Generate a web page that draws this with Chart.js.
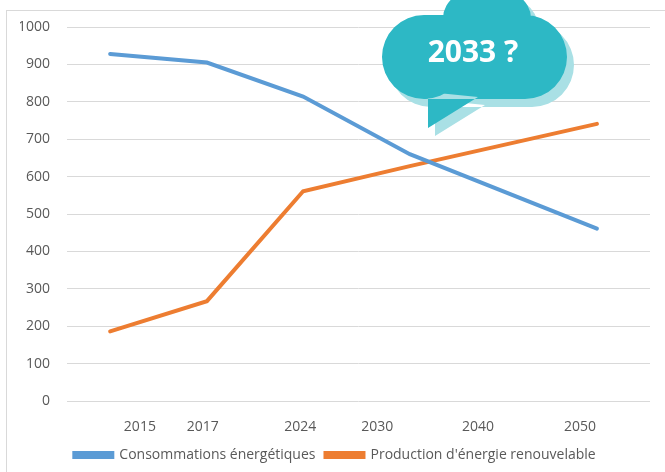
<!DOCTYPE html>
<html>
<head>
<meta charset="utf-8">
<script src="https://cdn.jsdelivr.net/npm/chart.js@4"></script>
<style>
  html, body { margin: 0; padding: 0; background: #fff; }
  #wrap { width: 665px; height: 472px; position: relative; }
</style>
</head>
<body>
<div id="wrap"><canvas id="chart" width="665" height="472"></canvas></div>
<script>
// Values
const yearLabels = ["2015", "2017", "2024", "2030", "2040", "2050"];
const labelSlots = [12.5, 23.3, 40.0, 53.2, 70.5, 88.0];   // where each year label sits on the x axis
const pointSlots = [7.4, 24.0, 40.5, 58.8, 90.9];          // where each measured point sits
const consommation = [928, 905, 814, 660, 461];
const production = [186, 267, 561, 628, 741];
const bubbleText = "2033 ?";

const gray = "#595959";

function toPoints(values) {
  return values.map((v, i) => ({ x: pointSlots[i], y: v }));
}

// Outer frame like the spreadsheet chart box
const framePlugin = {
  id: "frame",
  beforeDraw(chart) {
    const ctx = chart.ctx;
    ctx.save();
    ctx.strokeStyle = "#d9d9d9";
    ctx.lineWidth = 1;
    ctx.strokeRect(6.5, 10.5, 700, 500);
    ctx.restore();
  }
};

// Speech bubble annotation
function cloudPath(ctx, dx, dy) {
  ctx.beginPath();
  ctx.arc(424 + dx, 57 + dy, 42, 0, Math.PI * 2);
  ctx.moveTo(567 + dx, 57 + dy);
  ctx.arc(525 + dx, 57 + dy, 42, 0, Math.PI * 2);
  ctx.rect(424 + dx, 15 + dy, 101, 84);
  ctx.moveTo(531 + dx, 18 + dy);
  ctx.ellipse(487 + dx, 18 + dy, 44, 32, 0, 0, Math.PI * 2);
  ctx.moveTo(428 + dx, 92 + dy);
  ctx.lineTo(428 + dx, 128 + dy);
  ctx.lineTo(478 + dx, 97 + dy);
  ctx.closePath();
}

const bubblePlugin = {
  id: "bubble",
  afterDatasetsDraw(chart) {
    const ctx = chart.ctx;
    ctx.save();
    ctx.fillStyle = "#a9e0e5";
    cloudPath(ctx, 7, 8);
    ctx.fill("nonzero");
    ctx.fillStyle = "#2db8c5";
    cloudPath(ctx, 0, 0);
    ctx.fill("nonzero");
    ctx.fillStyle = "#ffffff";
    ctx.font = "bold 30px 'Open Sans'";
    ctx.textAlign = "center";
    ctx.textBaseline = "middle";
    ctx.fillText(bubbleText, 473, 53);
    ctx.restore();
  }
};

new Chart(document.getElementById("chart"), {
  type: "line",
  data: {
    datasets: [
      {
        label: "Consommations énergétiques",
        data: toPoints(consommation),
        borderColor: "#5b9bd5",
        backgroundColor: "#5b9bd5",
        borderWidth: 4,
        pointRadius: 0,
        borderCapStyle: "round",
        tension: 0
      },
      {
        label: "Production d'énergie renouvelable",
        data: toPoints(production),
        borderColor: "#ed7d31",
        backgroundColor: "#ed7d31",
        borderWidth: 4,
        pointRadius: 0,
        borderCapStyle: "round",
        tension: 0
      }
    ]
  },
  options: {
    responsive: false,
    animation: false,
    layout: { padding: { left: 20, right: 15, top: 27, bottom: 0 } },
    plugins: {
      tooltip: { enabled: false },
      legend: {
        position: "bottom",
        labels: {
          boxWidth: 38,
          boxHeight: 4,
          padding: 10,
          color: gray,
          font: { family: "'Open Sans'", size: 14 }
        }
      }
    },
    scales: {
      x: {
        type: "linear",
        min: 0,
        max: 100,
        grid: { display: false },
        border: { display: false },
        afterBuildTicks(axis) {
          axis.ticks = labelSlots.map(v => ({ value: v }));
        },
        afterFit(axis) { axis.height = 37; },
        ticks: {
          color: gray,
          padding: 10,
          maxRotation: 0,
          autoSkip: false,
          font: { family: "'Open Sans'", size: 14 },
          callback: (v) => yearLabels[labelSlots.indexOf(v)]
        }
      },
      y: {
        min: 0,
        max: 1000,
        grid: { color: "#d9d9d9", drawTicks: false },
        border: { display: false },
        afterFit(axis) { axis.width = 47; },
        ticks: {
          stepSize: 100,
          color: gray,
          padding: 17,
          font: { family: "'Open Sans'", size: 14 },
          callback: (v) => String(v)
        }
      }
    }
  },
  plugins: [framePlugin, bubblePlugin]
});
</script>
</body>
</html>
